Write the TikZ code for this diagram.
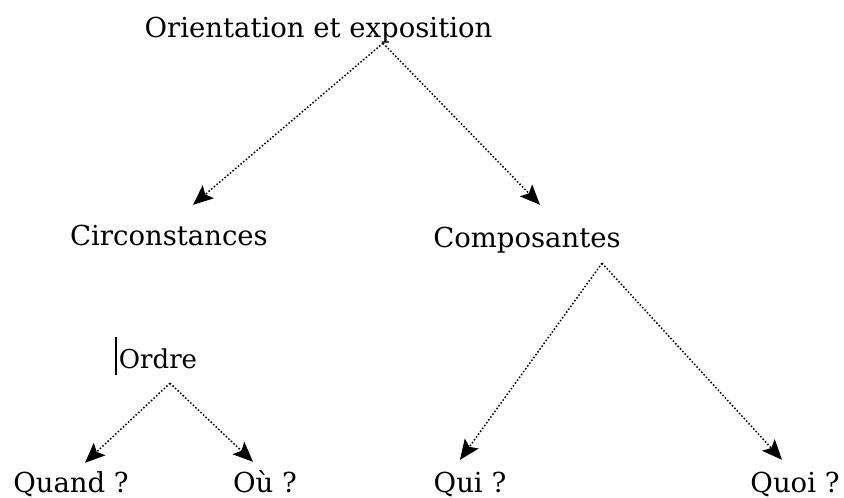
\documentclass[tikz,border=0pt]{standalone}
\usepackage{fontspec}
\setmainfont{DejaVu Serif}
\usetikzlibrary{arrows.meta,positioning}

\begin{document}
\begin{tikzpicture}[x=1pt,y=-1pt,
  word/.style={anchor=base,inner sep=0pt,text height=20pt,text depth=6pt,font=\fontsize{27.5}{30}\selectfont},
  link/.style={line width=1.5pt,dash pattern=on 1.5pt off 2pt,-{Stealth[length=20pt,width=17pt,inset=4pt]}}]
  \useasboundingbox (0,0) rectangle (844,498);
  % plan de l'exposition
  \node[word] (title) at (318.5,37) {Orientation et exposition};
  \node[word] (circ) at (169,245) {Circonstances};
  \node[word] (comp) at (527,247) {Composantes};
  \node[word,font=\fontsize{26}{28}\selectfont] (ordre) at (158,368) {Ordre};
  \node[word] (quand) at (71,492) {Quand ?};
  \node[word] (ou) at (265,492) {Où ?};
  \node[word] (qui) at (470,492) {Qui ?};
  \node[word] (quoi) at (795,492) {Quoi ?};
  \coordinate (titlefork) at ([xshift=64.5pt]title.south);
  \coordinate (compfork) at ([xshift=75pt,yshift=-10pt]comp.south);
  \coordinate (ordrefork) at ([xshift=12pt,yshift=-9pt]ordre.south);
  \foreach \from/\to/\dx/\dy in {titlefork/circ/24/20, titlefork/comp/13/22, compfork/qui/-10/12, compfork/quoi/-13/12, ordrefork/quand/14/9, ordrefork/ou/-12/10}
    \draw[link] (\from) -- ([xshift=\dx pt,yshift=\dy pt]\to.north);
  \draw[line width=2pt] ([xshift=-3pt,yshift=-7pt]ordre.base west) -- ([xshift=-3pt,yshift=31pt]ordre.base west);
\end{tikzpicture}
\end{document}
